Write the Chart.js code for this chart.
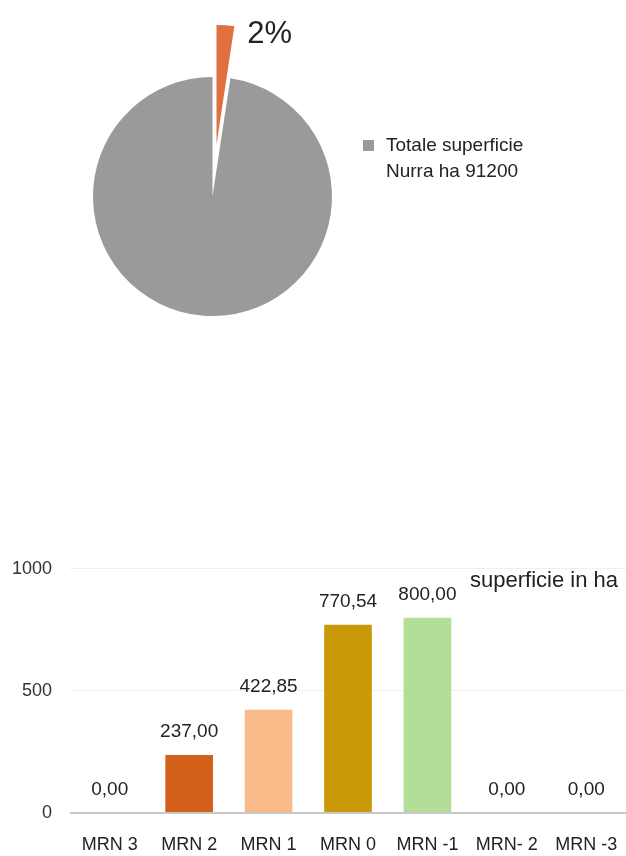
<!DOCTYPE html>
<html>
<head>
<meta charset="utf-8">
<script src="https://cdn.jsdelivr.net/npm/chart.js@4.4.0/dist/chart.umd.min.js"></script>
<style>
  html, body { margin:0; padding:0; background:#fff; width:626px; height:856px; overflow:hidden; }
  body { position:relative; font-family:"Liberation Sans", Arial, sans-serif; color:#222; }
  canvas { position:absolute; pointer-events:none; }
  #pieA { left:0; top:0; }
  #pieB { left:4px; top:-52px; }
  #bar { left:0; top:540px; }
  #pieLegend { position:absolute; left:363px; top:132px; font-size:19px; line-height:26px; color:#222; }
  #pieLegend .box { position:absolute; left:0; top:8px; width:11px; height:11px; background:#9A9A9A; }
  #pieLegend .txt { position:absolute; left:23px; top:0; white-space:nowrap; }
  #barLegend { position:absolute; left:470px; top:569px; font-size:22px; line-height:22px; color:#222; white-space:nowrap; }
</style>
</head>
<body>
<canvas id="pieA" width="626" height="345"></canvas>
<canvas id="pieB" width="626" height="345"></canvas>
<div id="pieLegend"><div class="box"></div><div class="txt">Totale superficie<br>Nurra ha 91200</div></div>
<canvas id="bar" width="626" height="316"></canvas>
<div id="barLegend">superficie in ha</div>
<script>
// ---- Pie data ----
const pieLabels = ['Aree MRN', 'Totale superficie Nurra ha 91200'];
const pieValues = [2230.39, 91200];
const pieColors = ['#E07040', '#9A9A9A'];

// ---- Bar data ----
const categories = ['MRN 3', 'MRN 2', 'MRN 1', 'MRN 0', 'MRN -1', 'MRN- 2', 'MRN -3'];
const seriesName = 'superficie in ha';
const areaHa = [0.00, 237.00, 422.85, 770.54, 800.00, 0.00, 0.00];
const barColors = ['#9E4A1A', '#D2601A', '#FBBA8A', '#C99A08', '#B3DE98', '#7FB26A', '#5E8F4B'];
const yTickValues = [0, 500, 1000];

const FONT = '"Liberation Sans", Arial, sans-serif';
const transparent = 'rgba(0,0,0,0)';

function pieConfig(colors, plugins) {
  return {
    type: 'pie',
    data: {
      labels: pieLabels,
      datasets: [{
        data: pieValues,
        backgroundColor: colors,
        borderWidth: 0,
        hoverOffset: 0,
        offset: 0,
        clip: false
      }]
    },
    options: {
      responsive: false,
      maintainAspectRatio: false,
      animation: false,
      events: [],
      layout: { padding: { left: 93, top: 77, right: 294, bottom: 29 } },
      plugins: { legend: { display: false }, tooltip: { enabled: false } }
    },
    plugins: plugins
  };
}

const pctLabel = {
  id: 'pctLabel',
  afterDatasetsDraw(chart) {
    const ctx = chart.ctx;
    const arc = chart.getDatasetMeta(0).data[0];
    const total = pieValues.reduce((a, b) => a + b, 0);
    const pct = Math.round(pieValues[0] / total * 100) + '%';
    const px = arc.x + arc.outerRadius * Math.cos(arc.endAngle);
    const py = arc.y + arc.outerRadius * Math.sin(arc.endAngle);
    ctx.save();
    ctx.font = '31px ' + FONT;
    ctx.fillStyle = '#222';
    ctx.textAlign = 'left';
    ctx.textBaseline = 'middle';
    ctx.fillText(pct, px + 13, py + 8);
    ctx.restore();
  }
};

// Main pie (grey part); the exploded slice is drawn by a shifted copy of the same pie
new Chart(document.getElementById('pieA'), pieConfig([transparent, pieColors[1]], []));
new Chart(document.getElementById('pieB'), pieConfig([pieColors[0], transparent], [pctLabel]));

const barValueLabels = {
  id: 'barValueLabels',
  afterDatasetsDraw(chart) {
    const ctx = chart.ctx;
    const meta = chart.getDatasetMeta(0);
    const data = chart.data.datasets[0].data;
    ctx.save();
    ctx.font = '19px ' + FONT;
    ctx.fillStyle = '#222';
    ctx.textAlign = 'center';
    ctx.textBaseline = 'middle';
    meta.data.forEach((bar, i) => {
      ctx.fillText(data[i].toFixed(2).replace('.', ','), bar.x, bar.y - 23);
    });
    ctx.restore();
  }
};

new Chart(document.getElementById('bar'), {
  type: 'bar',
  data: {
    labels: categories,
    datasets: [{
      label: seriesName,
      data: areaHa,
      backgroundColor: barColors,
      borderWidth: 0,
      barPercentage: 0.6,
      categoryPercentage: 1.0
    }]
  },
  options: {
    responsive: false,
    maintainAspectRatio: false,
    animation: false,
    events: [],
    layout: { padding: { left: 0, top: 26.5, right: 0, bottom: 0 } },
    plugins: { legend: { display: false }, tooltip: { enabled: false } },
    scales: {
      x: {
        grid: { display: false, drawTicks: false },
        border: { display: false },
        ticks: { color: '#222', font: { family: FONT, size: 18, lineHeight: '64px' }, padding: 0, maxRotation: 0, autoSkip: false },
        afterFit(scale) { scale.height = 43; }
      },
      y: {
        min: 0,
        max: 1000,
        afterBuildTicks(scale) { scale.ticks = yTickValues.map(v => ({ value: v })); },
        grid: {
          drawTicks: false,
          color: (c) => (c.tick && c.tick.value === 0) ? '#C8C8C8' : '#EFEFEF',
          lineWidth: (c) => (c.tick && c.tick.value === 0) ? 2 : 1
        },
        border: { display: false },
        ticks: { color: '#333', font: { family: FONT, size: 18 }, padding: 18, callback: (v) => String(v) },
        afterFit(scale) { scale.width = 70; }
      }
    }
  },
  plugins: [barValueLabels]
});
</script>
</body>
</html>
